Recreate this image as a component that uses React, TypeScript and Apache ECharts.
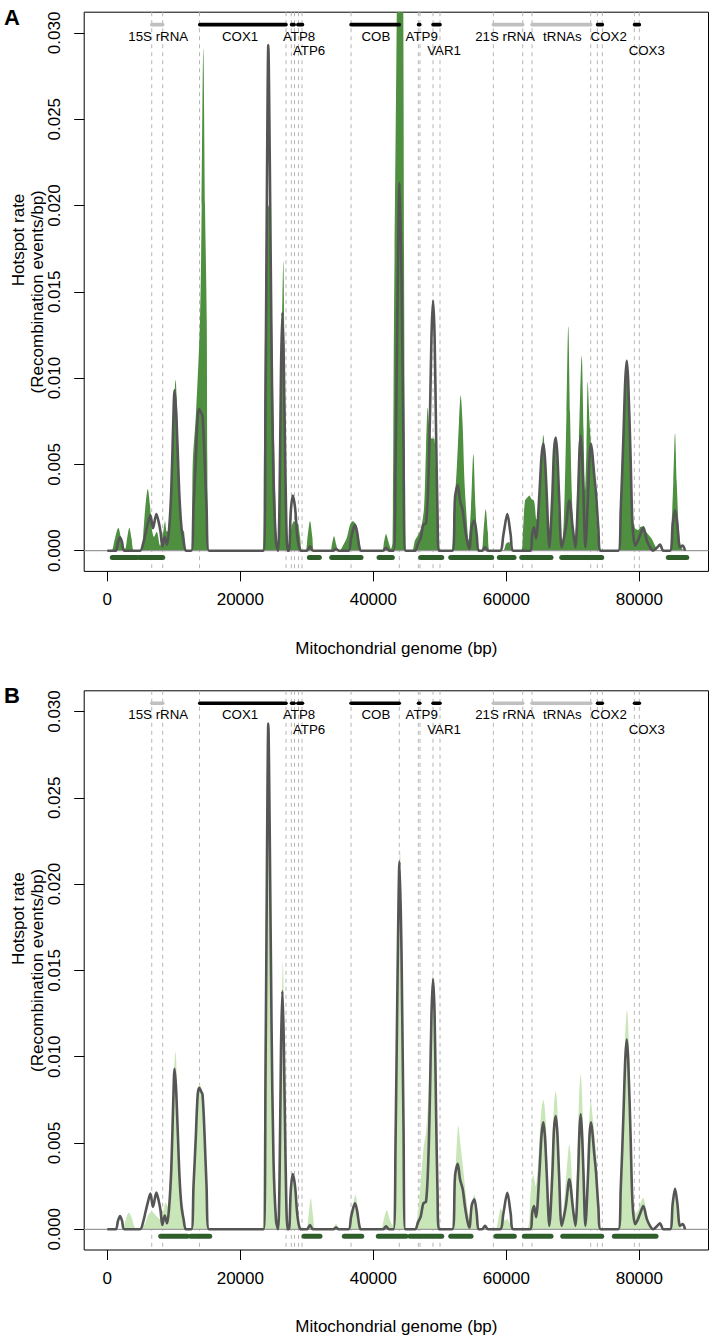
import React, { useEffect, useRef } from "react";
import * as echarts from "echarts";

// ---------- data (bp, recombination events / bp) ----------
const xTicks = [0, 20000, 40000, 60000, 80000];
const yTicks = [0, 0.005, 0.01, 0.015, 0.02, 0.025, 0.03];

// dark grey curve, identical in both panels
const greyCurve: number[][] = [
  [0, 0], [1010, 0], [1310, 0], [1610, 0.0005], [1910, 0.00077], [2210, 0.0005], [2560, 0],
  [4920, 0], [5370, 0.0004], [5740, 0.001], [6120, 0.0016], [6470, 0.00207], [6870, 0.0013],
  [7370, 0.00213], [7700, 0.0017], [8000, 0.0011], [8270, 0.00025], [8630, 0.0008], [8980, 0.00035],
  [9280, 0.0012], [9620, 0.0035], [9920, 0.0075], [10110, 0.0093], [10330, 0.0082], [10560, 0.006],
  [10860, 0.003], [11160, 0.0013], [11460, 0.0006], [11830, 0],
  [12630, 0], [12960, 0.0025], [13290, 0.0052], [13590, 0.0078], [13830, 0.0082], [14090, 0.008],
  [14320, 0.0078], [14620, 0.0055], [14920, 0.0025], [15290, 0],
  [23490, 0], [23790, 0.009], [24020, 0.022], [24210, 0.0293], [24420, 0.023], [24690, 0.012],
  [24990, 0.004], [25370, 0.0005], [25670, 0], [25900, 0.003], [26120, 0.0105], [26320, 0.0138],
  [26530, 0.011], [26800, 0.004], [27100, 0], [27320, 0], [27580, 0.0022], [27880, 0.0032],
  [28230, 0.0025], [28530, 0.001], [28830, 0.0002], [29130, 0],
  [30030, 0], [30480, 0.00025], [30930, 0], [33940, 0], [34390, 0.0001], [34840, 0],
  [36270, 0], [36650, 0.0007], [36950, 0.0012], [37250, 0.0015], [37550, 0.0011], [37900, 0.0002], [38150, 0],
  [41460, 0], [41910, 0.00017], [42360, 0],
  [43040, 0], [43340, 0.005], [43640, 0.0145], [43940, 0.0213], [44240, 0.016], [44540, 0.006], [44840, 0],
  [46270, 0], [46720, 0.0004], [47130, 0.00075], [47520, 0.0015], [47930, 0.0016], [48270, 0.004],
  [48530, 0.008], [48750, 0.0125], [48980, 0.0145], [49210, 0.0125], [49430, 0.007], [49660, 0.002], [49880, 0],
  [51880, 0], [52290, 0.0031], [52690, 0.0038], [53040, 0.0029], [53450, 0.0023], [53790, 0.0013],
  [54140, 0.0005], [54440, 0.0001], [54800, 0.0014], [55190, 0.00174], [55550, 0.0009], [55820, 0],
  [56350, 0], [56800, 0.0002], [57250, 0],
  [59050, 0], [59550, 0.0009], [60150, 0.00212], [60660, 0.0009], [61080, 0],
  [63560, 0], [63910, 0.001], [64170, 0.00135], [64470, 0.0007], [64960, 0.0032], [65300, 0.0055],
  [65570, 0.0062], [65820, 0.0053], [66080, 0.0032], [66470, 0.0002], [66920, 0.0032], [67170, 0.0058],
  [67430, 0.00656], [67670, 0.0056], [67930, 0.0032], [68330, 0.0002], [68930, 0.0013], [69480, 0.0029],
  [69990, 0.0013], [70380, 0.0002], [70790, 0.0032], [71010, 0.0058], [71190, 0.00666], [71390, 0.0055],
  [71590, 0.0034], [71890, 0.0002], [72290, 0.0032], [72520, 0.0055], [72740, 0.0062], [72970, 0.0055],
  [73190, 0.0045], [73490, 0.0033], [73840, 0.0013], [74200, 0],
  [76840, 0], [77200, 0.0023], [77600, 0.0065], [77880, 0.0098], [78110, 0.011], [78330, 0.0098],
  [78680, 0.0055], [78980, 0.0015], [79360, 0.0003], [79700, 0.0005], [80110, 0.0009], [80600, 0.00135],
  [81120, 0.0006], [81610, 0.0002], [82060, 0], [82710, 0.0002], [83110, 0.00035], [83610, 0],
  [84620, 0], [85020, 0.0015], [85370, 0.00235], [85720, 0.0015], [86120, 0.0002], [86530, 0.0003], [86870, 0],
];

// panel A filled profile (medium green)
const greenA: number[][] = [
  [0, 0], [630, 0], [1080, 0.0006], [1650, 0.00133], [2140, 0.0006], [2660, 0.0001], [3010, 0.0008],
  [3310, 0.00133], [3640, 0.0007], [4020, 0],
  [5140, 0], [5440, 0.0012], [5710, 0.0025], [6080, 0.00357], [6420, 0.0026], [6680, 0.0013], [7020, 0.0008],
  [7430, 0.0011], [7930, 0.0003], [8420, 0.0011], [8680, 0.0017], [8930, 0.0011], [9200, 0.0012],
  [9580, 0.003], [9960, 0.0075], [10260, 0.0099], [10560, 0.0075], [10860, 0.003], [11080, 0.0013],
  [11530, 0.0011], [11830, 0],
  [12660, 0], [12840, 0.005], [13340, 0.008], [13940, 0.0134], [14190, 0.02], [14440, 0.0291],
  [14690, 0.02], [14950, 0.0134], [15040, 0.005], [15220, 0],
  [23340, 0], [23560, 0.006], [23790, 0.015], [24020, 0.02], [24240, 0.02], [24470, 0.018], [24690, 0.015],
  [24990, 0.008], [25290, 0.003], [25520, 0],
  [25750, 0], [26050, 0.006], [26270, 0.013], [26470, 0.0168], [26650, 0.012], [26870, 0.004],
  [27100, 0.0005], [27320, 0.0003], [27620, 0.0012], [28080, 0.0017], [28600, 0.0016], [28980, 0.0008], [29280, 0],
  [29800, 0], [30110, 0.0008], [30480, 0.00172], [30830, 0.0008], [31130, 0],
  [33490, 0], [33790, 0.0004], [34090, 0.00083], [34390, 0.0004], [34740, 0],
  [34920, 0], [35440, 0.0003], [36050, 0.0008], [36500, 0.0015], [36900, 0.0017], [37250, 0.0016],
  [37630, 0.0011], [38000, 0.0003], [38230, 0],
  [41260, 0], [41610, 0.0005], [41910, 0.00096], [42290, 0.0005], [42660, 0.0001], [42890, 0.0005],
  [43110, 0.0134], [43520, 0.031], [44020, 0.06], [44510, 0.031], [44650, 0.0134], [44770, 0.004], [44990, 0],
  [45820, 0], [46270, 0.0006], [46720, 0.0009], [47170, 0.0013], [47630, 0.0025], [47930, 0.006],
  [48180, 0.0083], [48450, 0.007], [48750, 0.0065], [49130, 0.0065], [49500, 0.004], [49810, 0.001], [50030, 0],
  [51690, 0], [52060, 0.002], [52510, 0.0045], [52890, 0.0075], [53140, 0.009], [53410, 0.0075],
  [53710, 0.004], [54020, 0.002], [54320, 0.0006], [54690, 0.0025], [55040, 0.0056], [55370, 0.0025],
  [55740, 0.0002], [56270, 0], [56570, 0.0011], [56900, 0.0024], [57220, 0.0011], [57550, 0],
  [59510, 0], [59960, 0.0004], [60410, 0.0005], [60860, 0],
  [62210, 0], [62510, 0.0012], [62810, 0.0029], [63190, 0.0031], [63460, 0.0032], [63790, 0.003],
  [64170, 0.0029], [64540, 0.0018], [64840, 0.0022], [65220, 0.0048], [65570, 0.0067], [65900, 0.0048],
  [66200, 0.0015], [66500, 0.0003], [66800, 0.0025], [67100, 0.0055], [67370, 0.0066], [67630, 0.0052],
  [67930, 0.002], [68230, 0.0003], [68450, 0.0004], [68750, 0.003], [69050, 0.008], [69320, 0.013],
  [69580, 0.008], [69880, 0.003], [70260, 0.0005], [70560, 0.002], [70930, 0.0065], [71340, 0.0113],
  [71610, 0.007], [71840, 0.0035], [72060, 0.006], [72240, 0.0098], [72510, 0.0075], [72810, 0.0058],
  [73110, 0.0045], [73420, 0.003], [73720, 0.0012], [74090, 0.0002], [74320, 0],
  [76800, 0], [77170, 0.002], [77550, 0.006], [77850, 0.0095], [78110, 0.0107], [78380, 0.009],
  [78680, 0.005], [78980, 0.0018], [79360, 0.0013], [79810, 0.0012], [80260, 0.0014], [80630, 0.0013],
  [81010, 0.0011], [81840, 0.0007], [82590, 0.0001], [82810, 0],
  [84540, 0], [84840, 0.0015], [85110, 0.004], [85370, 0.0068], [85620, 0.004], [85900, 0.0015],
  [86200, 0.0003], [86650, 0],
];

// panel B filled profile (light green)
const greenB: number[][] = [
  [0, 0], [2210, 0], [2590, 0.0003], [2960, 0.0008], [3260, 0.00096], [3640, 0.0007], [4020, 0.0002], [4390, 0],
  [4920, 0], [5620, 0.0003], [6270, 0.0009], [6770, 0.001], [7280, 0.0008], [7930, 0.0006], [8380, 0.001],
  [8780, 0.00154], [9130, 0.0013], [9500, 0.0028], [9800, 0.0065], [10080, 0.0095], [10260, 0.0103],
  [10480, 0.0085], [10710, 0.005], [10930, 0.0025], [11160, 0.0018], [11460, 0.0012], [11790, 0],
  [12540, 0], [12890, 0.002], [13260, 0.0055], [13560, 0.0078], [13870, 0.0084], [14170, 0.0081],
  [14470, 0.007], [14770, 0.004], [15070, 0.0012], [15370, 0],
  [23340, 0], [23560, 0.006], [23790, 0.016], [24020, 0.024], [24210, 0.0285], [24420, 0.024],
  [24690, 0.013], [24990, 0.005], [25290, 0.0015], [25590, 0],
  [25670, 0], [25970, 0.004], [26190, 0.011], [26390, 0.0155], [26600, 0.012], [26840, 0.005],
  [27100, 0.0003], [27320, 0.0002], [27620, 0.002], [27930, 0.0028], [28230, 0.0022], [28600, 0.0008], [28980, 0],
  [29880, 0], [30260, 0.0008], [30590, 0.0018], [30930, 0.0008], [31380, 0],
  [33790, 0], [34390, 0.0003], [34990, 0],
  [36420, 0], [36800, 0.0008], [37100, 0.0017], [37320, 0.002], [37630, 0.0013], [38000, 0.0002], [38230, 0],
  [41080, 0], [41530, 0.0005], [42020, 0.0011], [42440, 0.0006], [42890, 0.0002], [43190, 0.004],
  [43490, 0.012], [43790, 0.02], [44020, 0.022], [44240, 0.017], [44540, 0.006], [44840, 0],
  [46120, 0], [46530, 0.0005], [46800, 0.0013], [47020, 0.0022], [47520, 0.0046], [47970, 0.0058],
  [48300, 0.008], [48600, 0.012], [48950, 0.0148], [49250, 0.0125], [49500, 0.007], [49810, 0.002], [50140, 0],
  [51790, 0], [52030, 0.0017], [52430, 0.004], [52780, 0.006], [53140, 0.0048], [53540, 0.0034],
  [53940, 0.0019], [54290, 0.0009], [54540, 0.0005], [54890, 0.0015], [55190, 0.002], [55550, 0.0013],
  [55850, 0.0002], [56050, 0], [56500, 0], [56800, 0.00015], [57100, 0],
  [58380, 0], [58750, 0.0005], [59160, 0.0012], [59500, 0.0009], [59810, 0.0005], [60110, 0.0006],
  [60560, 0.0003], [61010, 0],
  [63070, 0], [63670, 0.0022], [64060, 0.00315], [64420, 0.0025], [64810, 0.004], [65220, 0.0067],
  [65570, 0.0075], [65930, 0.0063], [66320, 0.0022], [66570, 0.0009], [66830, 0.004], [67170, 0.0072],
  [67430, 0.008], [67670, 0.0071], [68080, 0.0022], [68330, 0.0004], [68830, 0.0022], [69480, 0.0049],
  [69990, 0.0022], [70340, 0.0002], [70680, 0.004], [70930, 0.0075], [71190, 0.009], [71390, 0.0078],
  [71590, 0.0052], [71950, 0.0007], [72250, 0.004], [72700, 0.0074], [73100, 0.0061], [73610, 0.0038],
  [74000, 0.0007], [74240, 0],
  [76800, 0], [77170, 0.002], [77550, 0.0065], [77850, 0.011], [78150, 0.0127], [78450, 0.0105],
  [78750, 0.005], [79050, 0.0018], [79360, 0.0009], [79810, 0.0011], [80260, 0.0016], [80600, 0.00183],
  [80940, 0.0013], [81310, 0.0006], [81760, 0.0002], [82220, 0],
  [84620, 0], [85000, 0.0012], [85370, 0.0025], [85750, 0.0013], [86120, 0.0002], [86420, 0],
];

// hotspot regions (start, end)
const hotspotsA: number[][] = [
  [750, 4420], [4810, 8330], [30380, 31880], [33740, 38150], [40860, 42860], [47130, 50290],
  [51640, 57800], [58950, 61160], [62320, 66720], [68330, 74350], [84360, 87130],
];
const hotspotsB: number[][] = [
  [8030, 12030], [12540, 15400], [29580, 31980], [35640, 38260], [40750, 44920], [45520, 50290],
  [51640, 54690], [58450, 61200], [62710, 66720], [68480, 74350], [76240, 82510],
];

// genes
const geneNames = ["15S rRNA", "COX1", "ATP8", "ATP6", "COB", "ATP9", "VAR1", "21S rRNA", "tRNAs", "COX2", "COX3"];
const geneStart = [6680, 13900, 27700, 28650, 36650, 46800, 48980, 58050, 63870, 73720, 79280];
const geneEnd = [8330, 26870, 28100, 29350, 43900, 46990, 50030, 62470, 72690, 74440, 80000];
const geneIsRNA = [true, false, false, false, false, false, false, true, true, false, false];
const geneLabelX = [7650, 19970, 28830, 30330, 40380, 47280, 50630, 59810, 68420, 75400, 81120];
const geneLabelRow = [1, 1, 1, 2, 1, 1, 2, 1, 1, 1, 2];
// gene boundaries (dashed guides)
const boundaries = [
  6680, 8330, 13870, 26870, 27670, 28150, 28750, 29280, 36650, 43910, 46770, 47020, 48980, 50030,
  58050, 62470, 63870, 72690, 73690, 74440, 79250, 80000,
];

// ---------- layout ----------
const X_MIN = -3477;
const X_MAX = 90403;
const Y_MIN = -0.0012;
const Y_MAX = 0.0312;
const GENE_Y = 0.03048;
const ROW_Y: Record<number, number> = { 1: 0.02982, 2: 0.02898 };
const BAR_Y = -0.0004;
const PANEL_OFFSET = 678.6;
const GRID_LEFT = 84.2;
const GRID_TOP = 12.2;
const GRID_W = 624.3;
const GRID_H = 559.2;
const FONT = '"Liberation Sans", Arial, Helvetica, sans-serif';
const SMOOTH = 0.3;

function segSeries(data: number[][], idx: number, colorOf: (i: number) => string, width: number, z: number) {
  return {
    type: "custom",
    xAxisIndex: idx,
    yAxisIndex: idx,
    z,
    silent: true,
    data,
    encode: { x: [0, 1], y: 2 },
    renderItem: (params: any, api: any) => {
      const a = api.coord([api.value(0), api.value(2)]);
      const b = api.coord([api.value(1), api.value(2)]);
      return {
        type: "line",
        shape: { x1: a[0], y1: a[1], x2: b[0], y2: b[1] },
        style: { stroke: colorOf(params.dataIndex), lineWidth: width, lineCap: "round" },
      };
    },
  };
}

function panelSeries(idx: number, fill: number[][], fillColor: string, hotspots: number[][]) {
  return [
    {
      type: "custom",
      xAxisIndex: idx,
      yAxisIndex: idx,
      z: 1,
      silent: true,
      data: boundaries.map((b) => [b, 0]),
      encode: { x: 0, y: 1 },
      renderItem: (params: any, api: any) => {
        const p = api.coord([api.value(0), 0]);
        const cs = params.coordSys;
        return {
          type: "line",
          shape: { x1: p[0], y1: cs.y, x2: p[0], y2: cs.y + cs.height },
          style: { stroke: "#b5b5b5", lineWidth: 1, lineDash: [4, 4] },
        };
      },
    },
    {
      type: "line",
      xAxisIndex: idx,
      yAxisIndex: idx,
      z: 2,
      data: fill,
      showSymbol: false,
      symbol: "none",
      smooth: SMOOTH,
      lineStyle: { width: 0, color: fillColor },
      areaStyle: { color: fillColor, opacity: 1 },
      clip: true,
      silent: true,
    },
    {
      type: "custom",
      xAxisIndex: idx,
      yAxisIndex: idx,
      z: 3,
      silent: true,
      data: [[0, 0]],
      encode: { x: 0, y: 1 },
      renderItem: (params: any, api: any) => {
        const p = api.coord([0, 0]);
        const cs = params.coordSys;
        return {
          type: "line",
          shape: { x1: cs.x, y1: p[1], x2: cs.x + cs.width, y2: p[1] },
          style: { stroke: "#9a9a9a", lineWidth: 1.3 },
        };
      },
    },
    {
      type: "line",
      xAxisIndex: idx,
      yAxisIndex: idx,
      z: 4,
      data: greyCurve,
      showSymbol: false,
      symbol: "none",
      smooth: SMOOTH,
      lineStyle: { width: 2.6, color: "#555555", join: "round" },
      clip: true,
      silent: true,
    },
    segSeries(hotspots.map((h) => [h[0], h[1], BAR_Y]), idx, () => "#2f5f2b", 5, 5),
    segSeries(
      geneStart.map((s, i) => [s, geneEnd[i], GENE_Y]),
      idx,
      (i) => (geneIsRNA[i] ? "#c0c0c0" : "#000000"),
      3.6,
      5
    ),
    {
      type: "custom",
      xAxisIndex: idx,
      yAxisIndex: idx,
      z: 6,
      silent: true,
      data: geneLabelX.map((x, i) => [x, ROW_Y[geneLabelRow[i]]]),
      encode: { x: 0, y: 1 },
      renderItem: (params: any, api: any) => {
        const p = api.coord([api.value(0), api.value(1)]);
        return {
          type: "text",
          x: p[0],
          y: p[1],
          style: {
            text: geneNames[params.dataIndex],
            fill: "#000",
            fontSize: 13.3,
            fontFamily: FONT,
            align: "center",
            verticalAlign: "middle",
          },
        };
      },
    },
  ];
}

function axisPair(idx: number) {
  const x = {
    type: "value",
    gridIndex: idx,
    min: X_MIN,
    max: X_MAX,
    axisLine: { show: false, onZero: false },
    splitLine: { show: false },
    axisTick: { show: true, length: 10, lineStyle: { color: "#000", width: 1 }, customValues: xTicks },
    axisLabel: {
      show: true,
      customValues: xTicks,
      margin: 20,
      color: "#000",
      fontSize: 17,
      fontFamily: FONT,
      formatter: (v: number) => String(v),
    },
  };
  const y = {
    type: "value",
    gridIndex: idx,
    min: Y_MIN,
    max: Y_MAX,
    axisLine: { show: false, onZero: false },
    splitLine: { show: false },
    axisTick: { show: true, length: 10, lineStyle: { color: "#000", width: 1 }, customValues: yTicks },
    axisLabel: {
      show: true,
      customValues: yTicks,
      rotate: 90,
      margin: 21,
      color: "#000",
      fontSize: 17,
      fontFamily: FONT,
      formatter: (v: number) => v.toFixed(3),
    },
  };
  return { x, y };
}

export default function App() {
  const ref = useRef<HTMLDivElement>(null);
  useEffect(() => {
    if (!ref.current) return;
    document.body.style.margin = "0";
    const chart = echarts.init(ref.current, undefined, { renderer: "svg" });
    const a0 = axisPair(0);
    const a1 = axisPair(1);
    const graphics: any[] = [];
    [0, 1].forEach((i) => {
      const off = i * PANEL_OFFSET;
      graphics.push(
        {
          type: "text",
          left: 4,
          top: 6 + off,
          style: { text: i === 0 ? "A" : "B", fontSize: 22, fontWeight: "bold", fontFamily: FONT, fill: "#000" },
        },
        {
          type: "text",
          x: 18,
          y: 240 + off,
          rotation: Math.PI / 2,
          style: { text: "Hotspot rate", fontSize: 17, fontFamily: FONT, fill: "#000", align: "center", verticalAlign: "middle" },
        },
        {
          type: "text",
          x: 37,
          y: GRID_TOP + GRID_H / 2 + off,
          rotation: Math.PI / 2,
          style: {
            text: "(Recombination events/bp)",
            fontSize: 17,
            fontFamily: FONT,
            fill: "#000",
            align: "center",
            verticalAlign: "middle",
          },
        },
        {
          type: "text",
          x: GRID_LEFT + GRID_W / 2,
          y: 648 + off,
          style: {
            text: "Mitochondrial genome (bp)",
            fontSize: 17,
            fontFamily: FONT,
            fill: "#000",
            align: "center",
            verticalAlign: "middle",
          },
        }
      );
    });
    chart.setOption({
      animation: false,
      backgroundColor: "#ffffff",
      grid: [0, 1].map((i) => ({
        left: GRID_LEFT,
        top: GRID_TOP + i * PANEL_OFFSET,
        width: GRID_W,
        height: GRID_H,
        show: true,
        borderColor: "#000",
        borderWidth: 1,
        backgroundColor: "transparent",
      })),
      xAxis: [a0.x, a1.x],
      yAxis: [a0.y, a1.y],
      series: [
        ...panelSeries(0, greenA, "#4e8f40", hotspotsA),
        ...panelSeries(1, greenB, "#c9e6b9", hotspotsB),
      ],
      graphic: graphics,
    });
    return () => chart.dispose();
  }, []);
  return <div ref={ref} style={{ position: "absolute", left: 0, top: 0, width: 711, height: 1338 }} />;
}
